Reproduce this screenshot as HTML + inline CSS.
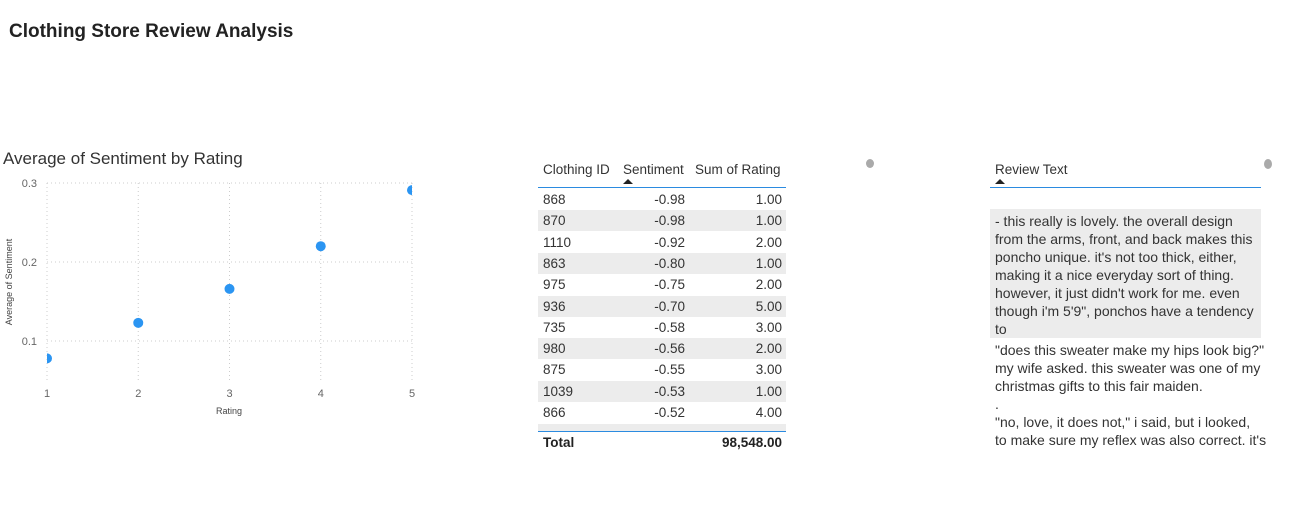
<!DOCTYPE html>
<html><head><meta charset="utf-8">
<style>
body{margin:0;width:1297px;height:522px;background:#fff;position:relative;overflow:hidden;font-family:"Liberation Sans",sans-serif;color:#252423}
.abs{position:absolute}
#tbl div.row{position:absolute;left:538px;width:248px;height:21px;font-size:13.5px;line-height:21px;color:#333}
.row span{position:absolute}
.rt{position:absolute;left:995px;font-size:14px;color:#333;line-height:18px;white-space:nowrap}
</style></head><body>
<div class="abs" style="left:9px;top:21px;font-size:19px;font-weight:bold;color:#222">Clothing Store Review Analysis</div>

<div class="abs" style="left:3px;top:149px;font-size:17px;color:#333">Average of Sentiment by Rating</div>
<svg class="abs" style="left:0;top:0" width="440" height="430" id="chart"></svg>

<div id="tbl">
 <div class="abs" style="left:543px;top:162px;font-size:13.5px;color:#333">Clothing ID</div>
 <div class="abs" style="left:623px;top:162px;font-size:13.5px;color:#333">Sentiment</div>
 <div class="abs" style="left:623px;top:179px;width:0;height:0;border-left:5px solid transparent;border-right:5px solid transparent;border-bottom:5px solid #222"></div>
 <div class="abs" style="left:695px;top:162px;font-size:13.5px;color:#333">Sum of Rating</div>
 <div class="abs" style="left:538px;top:187px;width:248px;height:1px;background:#2b8be0"></div>
 <div class="abs" style="left:538px;top:424px;width:248px;height:7px;background:#ececec"></div>
 <div class="abs" style="left:538px;top:431px;width:248px;height:1px;background:#2b8be0"></div>
 <div class="abs" style="left:543px;top:435px;font-size:13.5px;font-weight:bold;color:#222">Total</div>
 <div class="abs" style="left:600px;width:182px;text-align:right;top:435px;font-size:13.5px;font-weight:bold;color:#222">98,548.00</div>
</div>
<div class="abs" style="left:866px;top:159px;width:8px;height:9px;border-radius:50%;background:#aaa"></div>

<div class="abs" style="left:995px;top:162px;font-size:13.5px;color:#333">Review Text</div>
<div class="abs" style="left:995px;top:179px;width:0;height:0;border-left:5px solid transparent;border-right:5px solid transparent;border-bottom:5px solid #222"></div>
<div class="abs" style="left:990px;top:187px;width:271px;height:1px;background:#2b8be0"></div>
<div class="abs" style="left:1264px;top:159px;width:8px;height:10px;border-radius:50%;background:#aaa"></div>
<div class="abs" style="left:990px;top:209px;width:271px;height:129px;background:#ececec"></div>
<div>
<div class="rt" style="top:212px">- this really is lovely. the overall design</div>
<div class="rt" style="top:230px">from the arms, front, and back makes this</div>
<div class="rt" style="top:248px">poncho unique. it's not too thick, either,</div>
<div class="rt" style="top:266px">making it a nice everyday sort of thing.</div>
<div class="rt" style="top:284px">however, it just didn't work for me. even</div>
<div class="rt" style="top:302px">though i'm 5'9", ponchos have a tendency</div>
<div class="rt" style="top:320px">to</div>
<div class="rt" style="top:341px">"does this sweater make my hips look big?"</div>
<div class="rt" style="top:359px">my wife asked. this sweater was one of my</div>
<div class="rt" style="top:377px">christmas gifts to this fair maiden.</div>
<div class="rt" style="top:395px">.</div>
<div class="rt" style="top:413px">"no, love, it does not," i said, but i looked,</div>
<div class="rt" style="top:431px">to make sure my reflex was also correct. it's</div>
</div>

<script>
const ratings=[1,2,3,4,5];
const avgSentiment=[0.078,0.123,0.166,0.220,0.291];
const yTicks=[0.1,0.2,0.3];
const ids=["868","870","1110","863","975","936","735","980","875","1039","866"];
const sentiments=["-0.98","-0.98","-0.92","-0.80","-0.75","-0.70","-0.58","-0.56","-0.55","-0.53","-0.52"];
const sumRatings=["1.00","1.00","2.00","1.00","2.00","5.00","3.00","2.00","3.00","1.00","4.00"];

const NS="http://www.w3.org/2000/svg";
const svg=document.getElementById('chart');
const xS=v=>47+(v-1)*(412-47)/4;
const yS=v=>183+(0.3-v)*790;
function mk(t,a){const e=document.createElementNS(NS,t);for(const k in a)e.setAttribute(k,a[k]);svg.appendChild(e);return e;}
ratings.forEach(r=>{
 const l=mk('line',{x1:xS(r),x2:xS(r),y1:183,y2:380,stroke:'#ccc','stroke-dasharray':'1,3'});
 
 
 const t=mk('text',{x:xS(r),y:397,'text-anchor':'middle','font-size':'11',fill:'#666','font-family':'Liberation Sans'});
 t.textContent=r;
 
 
});
yTicks.forEach(v=>{
 const l=mk('line',{x1:47,x2:412,y1:yS(v),y2:yS(v),stroke:'#ccc','stroke-dasharray':'1,3'});
 
 
 const t=mk('text',{x:37,y:yS(v)+4,'text-anchor':'end','font-size':'11',fill:'#666','font-family':'Liberation Sans'});
 t.textContent=v.toFixed(1);
 
 
});
let xt=mk('text',{x:229,y:414,'text-anchor':'middle','font-size':'9',fill:'#444','font-family':'Liberation Sans'});
xt.textContent='Rating';


let yt=mk('text',{x:0,y:0,'text-anchor':'middle','font-size':'9',fill:'#444','font-family':'Liberation Sans',transform:'translate(12,282) rotate(-90)'});
yt.textContent='Average of Sentiment';


const clip=mk('clipPath',{id:'pc'});
const cr=document.createElementNS(NS,'rect');
cr.setAttribute('x',47);cr.setAttribute('y',150);cr.setAttribute('width',365);cr.setAttribute('height',240);
clip.appendChild(cr);
ratings.forEach((r,i)=>{
 const c=mk('circle',{cx:xS(r),cy:yS(avgSentiment[i]),r:5,fill:'#2b95f2','clip-path':'url(#pc)'});
 
 
});

const tbl=document.getElementById('tbl');
ids.forEach((id,i)=>{
 const row=document.createElement('div');
 row.className='row';
 row.style.top=(189+i*21.3)+'px';
 if(i%2==1)row.style.background='#ececec';
 
 
 row.innerHTML='<span style="left:5px">'+id+'</span><span style="right:101px">'+sentiments[i]+'</span><span style="right:4px">'+sumRatings[i]+'</span>';
 tbl.appendChild(row);
});
</script>
</body></html>
